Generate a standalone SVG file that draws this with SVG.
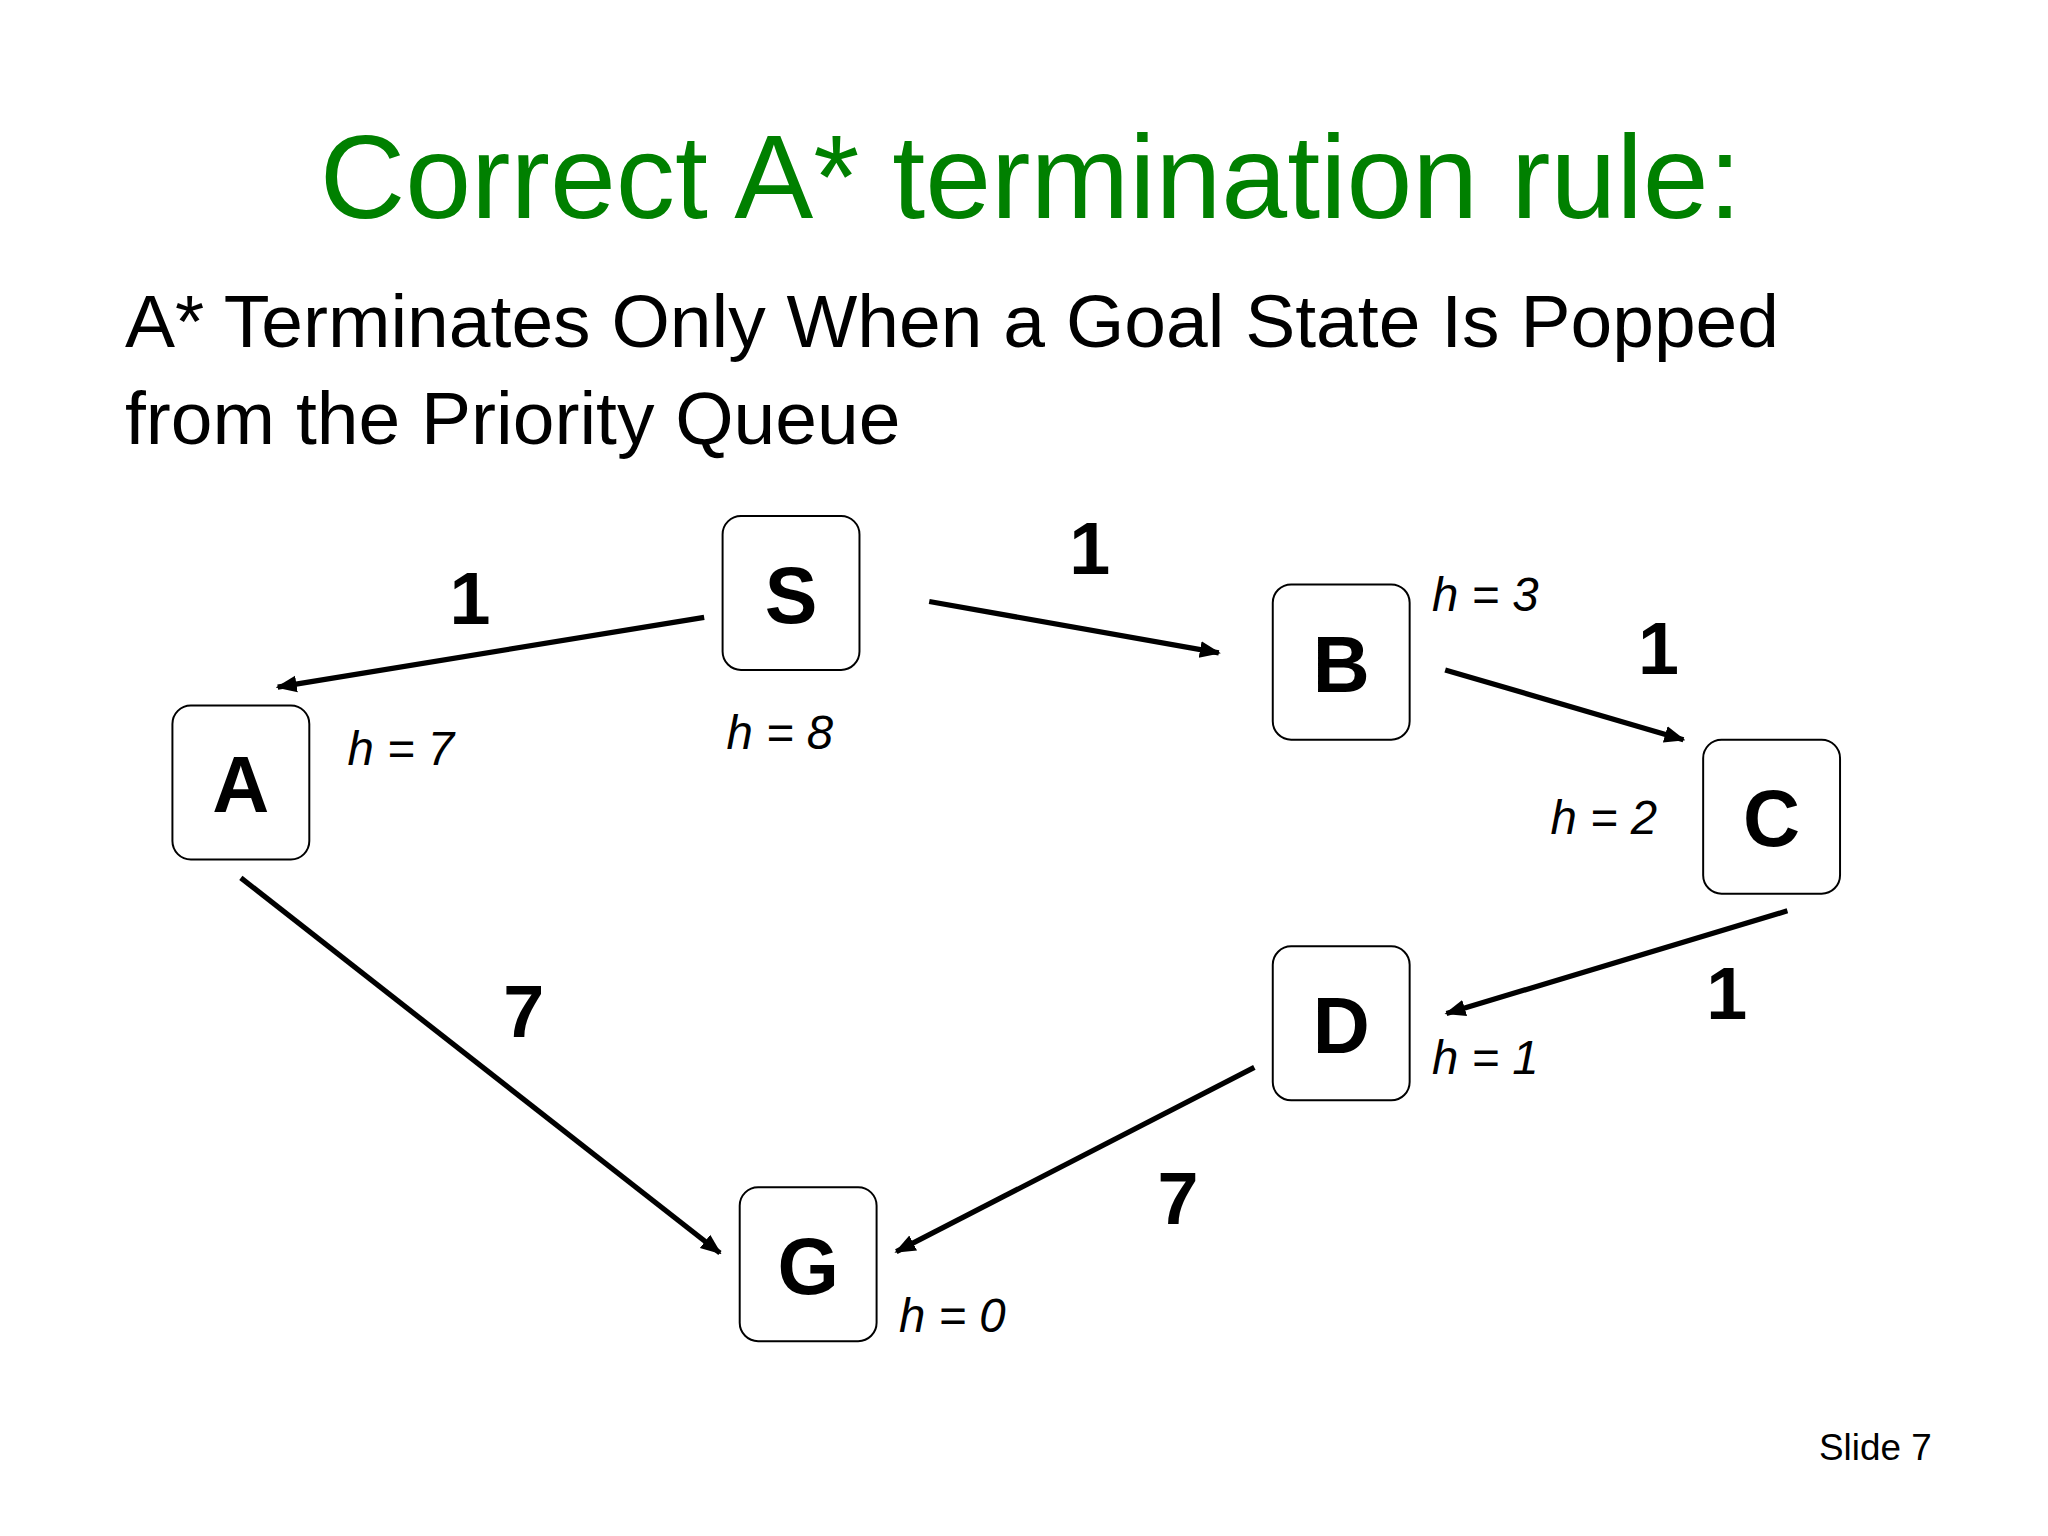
<svg xmlns="http://www.w3.org/2000/svg" width="2048" height="1536" viewBox="0 0 2048 1536">
<defs>
<style>
.t{font-family:"Liberation Sans",Arial,sans-serif}
.n rect{fill:#fff;stroke:#000;stroke-width:1.5}
.n text{font-family:"Liberation Sans",Arial,sans-serif;font-weight:bold;font-size:60px;text-anchor:middle}
.h{font-family:"Liberation Sans",Arial,sans-serif;font-style:italic;font-size:36px}
.w{font-family:"Liberation Sans",Arial,sans-serif;font-weight:bold;font-size:56px;text-anchor:middle}
#edges line{stroke:#000;stroke-width:4;marker-end:url(#ah)}
</style>
<marker id="ah" viewBox="0 0 10 10" refX="9" refY="5" markerWidth="4" markerHeight="4" orient="auto" markerUnits="strokeWidth"><path d="M0,1L10,5L0,9z" fill="#000"/></marker>
</defs>
<rect width="2048" height="1536" fill="#fff"/>
<g transform="scale(1.3162)">
<text class="t" x="783" y="166" font-size="90" fill="#008000" text-anchor="middle">Correct A* termination rule:</text>
<text class="t" x="95" y="264" font-size="57">A* Terminates Only When a Goal State Is Popped</text>
<text class="t" x="95" y="337" font-size="57">from the Priority Queue</text>
<g id="edges">
<line x1="535" y1="469" x2="211" y2="522"/>
<line x1="706" y1="457" x2="926" y2="496"/>
<line x1="1098" y1="509" x2="1279" y2="562"/>
<line x1="1358" y1="692" x2="1099" y2="770"/>
<line x1="183" y1="667" x2="547" y2="952"/>
<line x1="953" y1="811" x2="681" y2="951"/>
</g>
<g id="S" class="n"><rect x="549" y="392" width="104" height="117" rx="14"/><text x="601" y="473">S</text></g>
<g id="B" class="n"><rect x="967" y="444" width="104" height="118" rx="14"/><text x="1019" y="526">B</text></g>
<g id="A" class="n"><rect x="131" y="536" width="104" height="117" rx="14"/><text x="183" y="617">A</text></g>
<g id="C" class="n"><rect x="1294" y="562" width="104" height="117" rx="14"/><text x="1346" y="643">C</text></g>
<g id="D" class="n"><rect x="967" y="719" width="104" height="117" rx="14"/><text x="1019" y="800">D</text></g>
<g id="G" class="n"><rect x="562" y="902" width="104" height="117" rx="14"/><text x="614" y="983">G</text></g>
<text class="h" x="552" y="569">h = 8</text>
<text class="h" x="264" y="581">h = 7</text>
<text class="h" x="1088" y="464">h = 3</text>
<text class="h" x="1178" y="634">h = 2</text>
<text class="h" x="1088" y="816">h = 1</text>
<text class="h" x="683" y="1012">h = 0</text>
<text class="w" x="357" y="474">1</text>
<text class="w" x="828" y="436">1</text>
<text class="w" x="1260" y="512">1</text>
<text class="w" x="1312" y="774">1</text>
<text class="w" x="398" y="788">7</text>
<text class="w" x="895" y="930">7</text>
<text class="t" x="1382" y="1109" font-size="28">Slide 7</text>
</g>
</svg>
